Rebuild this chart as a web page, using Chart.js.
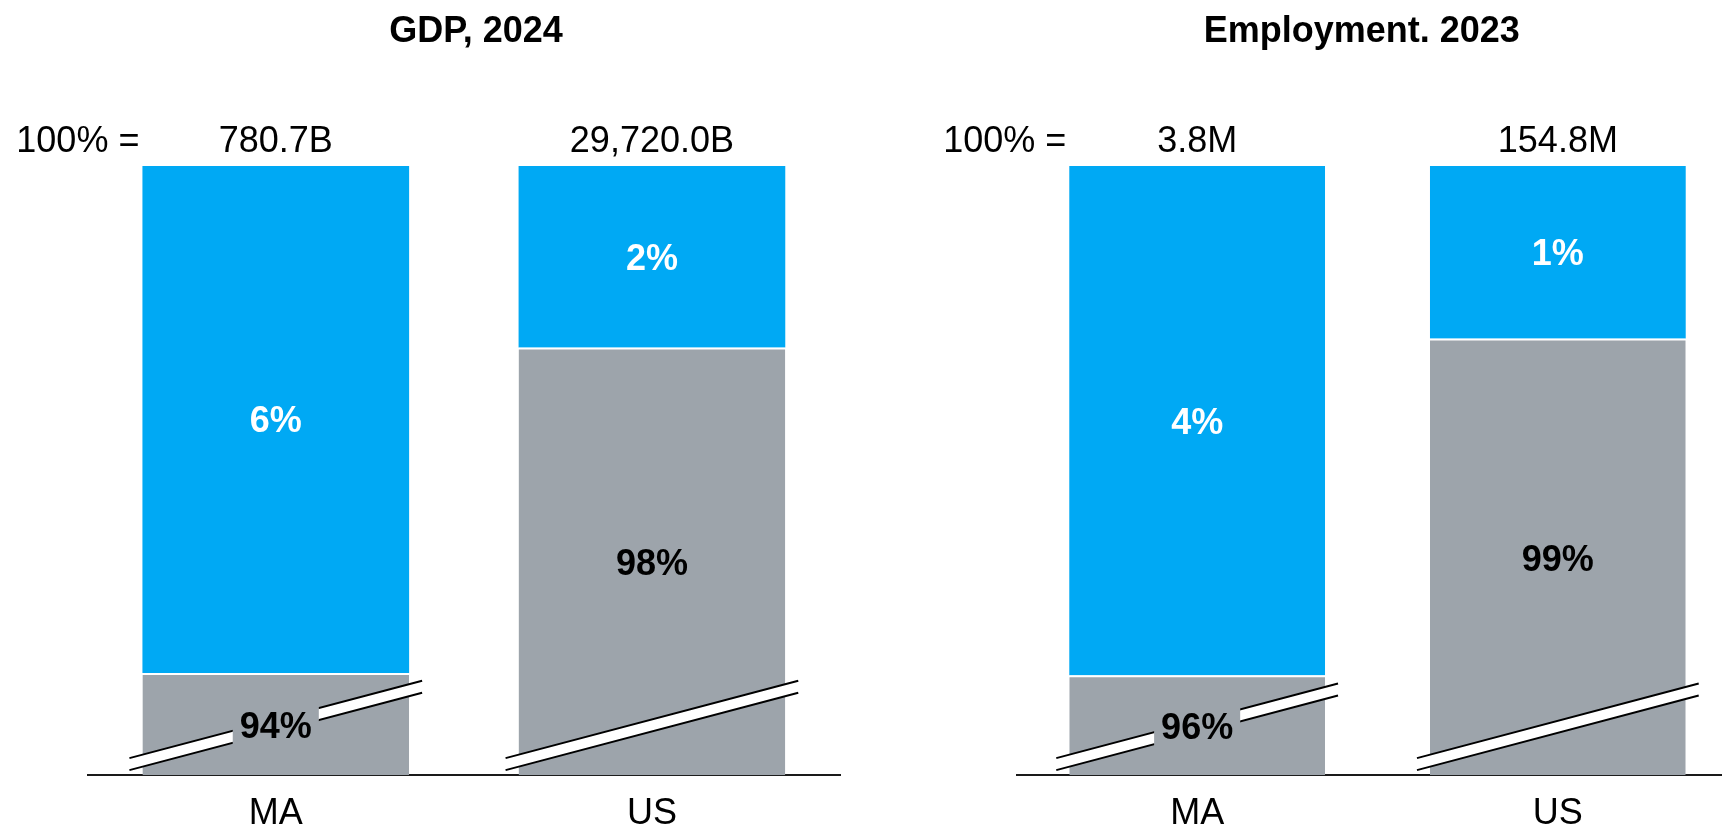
<!DOCTYPE html>
<html lang="en">
<head>
<meta charset="UTF-8">
<title>GDP and Employment, MA vs US</title>
<script src="https://cdn.jsdelivr.net/npm/chart.js"></script>
<style>
  html, body { margin: 0; padding: 0; background: #fff; }
  body { width: 1722px; height: 832px; overflow: hidden; position: relative; }
  .panel { position: absolute; top: 0; height: 832px; }
  #p1 { left: 0; width: 860px; }
  #p2 { left: 860px; width: 900px; }
</style>
</head>
<body>
<div class="panel" id="p1"><canvas id="gdp"></canvas></div>
<div class="panel" id="p2"><canvas id="emp"></canvas></div>
<script>
const categories = ['MA', 'US'];

// shares shown on the bars (%)
const gdpOther = [94, 98];
const gdpSector = [6, 2];
const gdpTotals = ['780.7B', '29,720.0B'];
const empOther = [96, 99];
const empSector = [4, 1];
const empTotals = ['3.8M', '154.8M'];

// drawn heights on the broken axis (0 = baseline, 100 = top of bar)
const gdpOtherBar = [16.8, 70.2];
const gdpSectorBar = [83.2, 29.8];
const empOtherBar = [16.4, 71.7];
const empSectorBar = [83.6, 28.3];

const FONT = "'Liberation Sans', Arial, sans-serif";
const BLUE = '#00A9F4';
const GRAY = '#9DA4AB';

function drawBreak(ctx, el, gap) {
  const x0 = el.x - el.width / 2 - 13;
  const x1 = el.x + el.width / 2 + 13;
  const y0 = el.base - 17.2;
  const rise = (x1 - x0) * 0.2645;
  const th = 12;
  ctx.save();
  if (gap) {
    ctx.beginPath();
    ctx.rect(0, 0, ctx.canvas.width, ctx.canvas.height);
    ctx.rect(gap.x, gap.y, gap.w, gap.h);
    ctx.clip('evenodd');
  }
  ctx.beginPath();
  ctx.moveTo(x0, y0);
  ctx.lineTo(x1, y0 - rise);
  ctx.lineTo(x1, y0 - rise + th);
  ctx.lineTo(x0, y0 + th);
  ctx.closePath();
  ctx.fillStyle = '#fff';
  ctx.fill();
  ctx.beginPath();
  ctx.moveTo(x0, y0);
  ctx.lineTo(x1, y0 - rise);
  ctx.moveTo(x0, y0 + th);
  ctx.lineTo(x1, y0 - rise + th);
  ctx.lineWidth = 2;
  ctx.strokeStyle = '#000';
  ctx.stroke();
  ctx.restore();
}

const annot = {
  id: 'annot',
  afterDatasetsDraw(chart, args, opts) {
    const ctx = chart.ctx;
    const rest = chart.getDatasetMeta(0).data;
    const sector = chart.getDatasetMeta(1).data;
    ctx.save();
    ctx.font = `bold 36px ${FONT}`;
    ctx.textAlign = 'center';
    ctx.textBaseline = 'alphabetic';

    // grey part: break mark, then label
    rest.forEach((el, i) => {
      const txt = opts.other[i] + '%';
      const w = ctx.measureText(txt).width;
      const cy = (el.y + 2 + el.base) / 2;
      drawBreak(ctx, el, { x: el.x - w / 2 - 7, y: cy - 22, w: w + 14, h: 44 });
      ctx.fillStyle = '#000';
      ctx.fillText(txt, el.x, cy + 13);
    });
    sector.forEach((el, i) => {
      const cy = (el.y + el.base) / 2;
      ctx.fillStyle = '#fff';
      ctx.fillText(opts.sector[i] + '%', el.x, cy + 13);
    });

    // totals above the bars
    ctx.font = `36px ${FONT}`;
    ctx.fillStyle = '#000';
    sector.forEach((el, i) => {
      ctx.fillText(opts.totals[i], el.x, 151.7);
    });
    ctx.textAlign = 'right';
    ctx.fillText('100% =', sector[0].x - sector[0].width / 2 - 3, 151.7);

    // panel title
    ctx.font = `bold 36px ${FONT}`;
    ctx.textAlign = 'center';
    ctx.fillText(opts.title, opts.titleX, 41.7);
    ctx.restore();
  }
};

function makeChart(id, otherBar, sectorBar, other, sector, totals, title, titleX, padLeft, padRight) {
  return new Chart(document.getElementById(id), {
    type: 'bar',
    data: {
      labels: categories,
      datasets: [
        {
          data: otherBar,
          backgroundColor: GRAY,
          borderColor: '#fff',
          borderWidth: { top: 2, right: 0, bottom: 0, left: 0 },
          borderSkipped: false,
          barPercentage: 0.709,
          categoryPercentage: 1
        },
        {
          data: sectorBar,
          backgroundColor: BLUE,
          borderWidth: 0,
          barPercentage: 0.709,
          categoryPercentage: 1
        }
      ]
    },
    options: {
      responsive: true,
      maintainAspectRatio: false,
      animation: false,
      devicePixelRatio: 1,
      layout: { padding: { top: 166, left: padLeft, right: padRight, bottom: -20.5 } },
      plugins: {
        legend: { display: false },
        tooltip: { enabled: false },
        annot: { other: other, sector: sector, totals: totals, title: title, titleX: titleX }
      },
      scales: {
        x: {
          stacked: true,
          grid: { display: false, drawTicks: false },
          border: { display: true, color: '#1a1a1a', width: 2 },
          ticks: { color: '#000', font: { family: FONT, size: 36 }, padding: 17 }
        },
        y: { stacked: true, display: false, min: 0, max: 100 }
      }
    },
    plugins: [annot]
  });
}

makeChart('gdp', gdpOtherBar, gdpSectorBar, gdpOther, gdpSector, gdpTotals, 'GDP, 2024', 476, 87.7, 20);
makeChart('emp', empOtherBar, empSectorBar, empOther, empSector, empTotals, 'Employment. 2023', 501.7, 156.8, 21.8);
</script>
</body>
</html>
